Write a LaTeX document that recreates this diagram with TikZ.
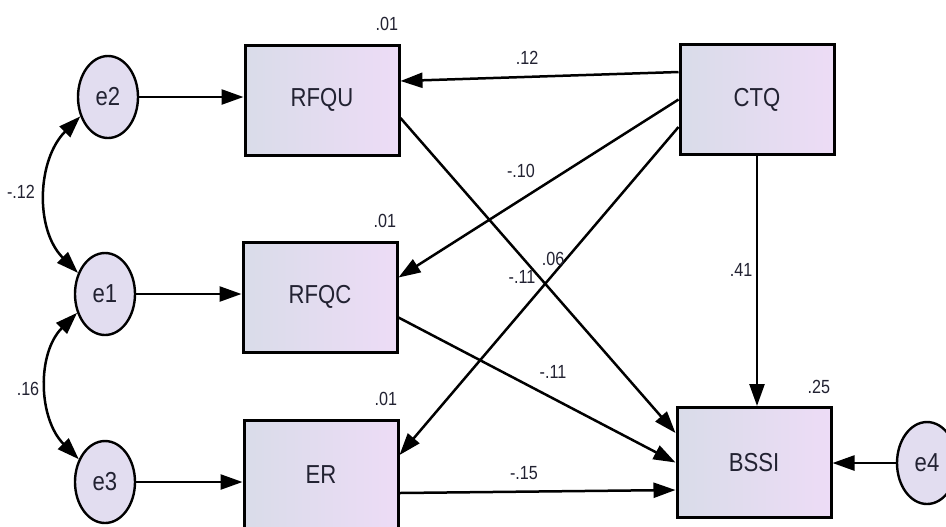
\documentclass[tikz,border=0pt]{standalone}
\usepackage{fontspec}
\setmainfont{Liberation Sans}[FakeStretch=0.85]
\usetikzlibrary{arrows.meta,shapes.geometric}
\definecolor{semink}{HTML}{222232}
\definecolor{semboxL}{HTML}{D9DCE9}
\definecolor{semboxR}{HTML}{EDDCF6}
\definecolor{semerr}{HTML}{E2DDF0}

\begin{document}
\begin{tikzpicture}[
    x=0.5pt, y=-0.5pt,
    obs/.style={
      draw=black, line width=1.5pt, inner sep=0pt,
      minimum width=77pt, minimum height=55pt,
      left color=semboxL, right color=semboxR,
      text=semink, font=\fontsize{13}{15}\selectfont,
    },
    err/.style={
      ellipse, draw=black, line width=1.2pt, inner sep=0pt,
      minimum width=30pt, minimum height=41pt, fill=semerr,
      text=semink, font=\fontsize{13}{15}\selectfont,
    },
    coef/.style={font=\fontsize{9.5}{11}\selectfont, text=semink, inner sep=0pt},
    rsq/.style={coef, anchor=south east},
    arr/.style={-{Triangle[length=11pt,width=7.5pt]}, line width=1.25pt},
    covarr/.style={{Triangle[length=11pt,width=7.5pt]}-{Triangle[length=11pt,width=7.5pt]},
      line width=1.25pt},
  ]
  \fill[white] (0,0) rectangle (946,526);
  \useasboundingbox (0,0) rectangle (946,526);

  % ===== error terms =====
  \node[err] (e2) at (108,97)  {e2};
  \node[err] (e1) at (105,294) {e1};
  \node[err] (e3) at (105,482) {e3};
  \node[err] (e4) at (927,463) {e4};

  % ===== observed variables =====
  \node[obs] (RFQU) at (322,100)   {RFQU};
  \node[obs] (RFQC) at (320,297)   {RFQC};
  \node[obs] (ER)   at (321,475)   {ER};
  \node[obs] (CTQ)  at (757,99.5)  {CTQ};
  \node[obs] (BSSI) at (754,462.5) {BSSI};

  % squared multiple correlations
  \node[rsq] (r2-rfqu) at ([xshift=-1pt,yshift=6pt]RFQU.north east) {.01};
  \node[rsq] (r2-rfqc) at ([xshift=-1pt,yshift=6pt]RFQC.north east) {.01};
  \node[rsq] (r2-er)   at ([xshift=-1pt,yshift=6pt]ER.north east)   {.01};
  \node[rsq] (r2-bssi) at ([xshift=-1pt,yshift=6pt]BSSI.north east) {.25};

  % ===== residual paths =====
  \draw[arr] (e2) -- (e2 -| RFQU.west);
  \draw[arr] (e1) -- (e1 -| RFQC.west);
  \draw[arr] (e3) -- (e3 -| ER.west);
  \draw[arr] (e4) -- (e4 -| BSSI.east);

  % ===== regression paths =====
  \draw[arr] ([yshift=13.75pt]CTQ.west) -- ([yshift=9.5pt]RFQU.east);
  \draw[arr] (CTQ.west) -- ([yshift=9.75pt]RFQC.east);
  \draw[arr] ([yshift=-13.75pt]CTQ.west) -- ([yshift=10pt]ER.east);
  \draw[arr] ([yshift=-9pt]RFQU.east) -- ([yshift=14.75pt]BSSI.west);
  \draw[arr] ([yshift=-10.25pt]RFQC.east) -- (BSSI.west);
  \draw[arr] ([yshift=-9pt]ER.east) -- ([yshift=-13.75pt]BSSI.west);
  \draw[arr] (CTQ.south) -- (CTQ.south |- BSSI.north);

  % ===== covariances =====
  \draw[covarr] (e2.215) to[out=225,in=135] (e1.142);
  \draw[covarr] (e1.214) to[out=225,in=135] (e3.139);

  % path coefficients
  \node[coef] (b-ctq-rfqu)  at (527,58)  {.12};
  \node[coef] (b-ctq-rfqc)  at (521,171) {-.10};
  \node[coef] (b-ctq-er)    at (553,259) {.06};
  \node[coef] (b-rfqu-bssi) at (522,277) {-.11};
  \node[coef] (b-ctq-bssi)  at (741,270) {.41};
  \node[coef] (b-rfqc-bssi) at (553,372) {-.11};
  \node[coef] (b-er-bssi)   at (524,473) {-.15};
  \node[coef] (c-e2-e1)     at (21,192)  {-.12};
  \node[coef] (c-e1-e3)     at (28,389)  {.16};
\end{tikzpicture}
\end{document}
